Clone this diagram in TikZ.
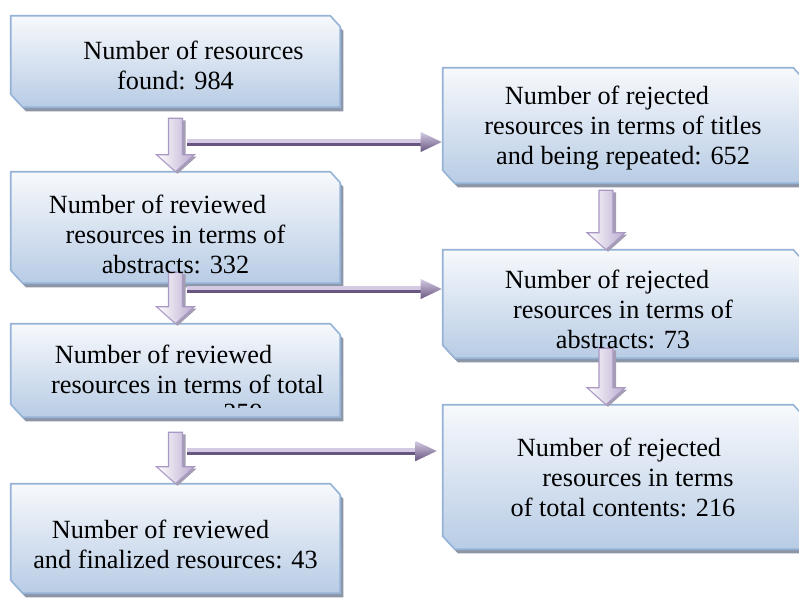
\documentclass[tikz,border=0pt]{standalone}
\usepackage{fontspec}
\setmainfont{Liberation Serif}
\usetikzlibrary{calc,fit,positioning}

\pgfdeclarelayer{background}
\pgfdeclarelayer{middle}
\pgfsetlayers{background,middle,main}

\definecolor{boxtop}{RGB}{247,249,252}
\definecolor{boxbot}{RGB}{184,204,229}
\definecolor{boxedge}{RGB}{149,179,215}
\definecolor{boxshade}{RGB}{140,150,166}
\definecolor{arrowlight}{RGB}{212,202,228}
\definecolor{arrowmid}{RGB}{186,171,208}
\definecolor{arrowedge}{RGB}{170,152,196}
\definecolor{arrowdark}{RGB}{104,86,128}
\definecolor{arrowshade}{RGB}{165,158,178}

\newcommand\padl[2]{\makebox[#1]{}#2}
\newcommand\padr[2]{#2\makebox[#1]{}}

% box drawn behind a node, top right and bottom left corners snipped
\newcommand\snipbox[1]{%
  \begin{pgfonlayer}{background}
    \fill[boxshade] ($(#1.north west)+(3,4)$) -- ($(#1.north east)+(-7,4)$) -- ($(#1.north east)+(3,15)$) -- ($(#1.south east)+(3,4)$) -- ($(#1.south west)+(15,4)$) -- ($(#1.south west)+(3,-9)$) -- cycle;
    \path[boxbody] (#1.north west) -- ($(#1.north east)+(-10,0)$) -- ($(#1.north east)+(0,11)$) -- (#1.south east) -- ($(#1.south west)+(12,0)$) -- ($(#1.south west)+(0,-13)$) -- cycle;
  \end{pgfonlayer}}

% fat arrow going down from #1 to the tip #2
\newcommand\downblock[2]{%
  \fill[arrowshade] ($(#1)+(-4,2)$) -- ($(#1)+(10,2)$) -- ($(#2)+(10,-15)$) -- ($(#2)+(21,-15)$) -- ($(#2)+(2,2)$) -- ($(#2)+(-16,-15)$) -- ($(#2)+(-4,-15)$) -- cycle;
  \path[blockbody] ($(#1)+(-7,0)$) -- ($(#1)+(7,0)$) -- ($(#2)+(7,-17)$) -- ($(#2)+(19,-17)$) -- (#2) -- ($(#2)+(-19,-17)$) -- ($(#2)+(-7,-17)$) -- cycle;}

% thin arrow going right from #1 to the tip #2
\newcommand\sideblock[2]{%
  \fill[arrowlight] ($(#1)+(0,-3)$) rectangle ($(#2)+(-20,1)$);
  \fill[arrowdark] ($(#1)+(0,1)$) rectangle ($(#2)+(-20,4)$);
  \path[headbody] ($(#2)+(-21,-10)$) -- (#2) -- ($(#2)+(-21,10)$) -- cycle;}

\begin{document}
\begin{tikzpicture}[x=0.75pt,y=-0.75pt,
  snip/.style={inner sep=0pt},
  boxtext/.style={inner sep=0pt, align=center, font=\fontsize{19.7pt}{22.5pt}\selectfont},
  boxbody/.style={top color=boxtop, bottom color=boxbot, draw=boxedge, line width=1.2pt},
  blockbody/.style={left color=white, right color=arrowmid, draw=arrowedge, line width=0.8pt},
  headbody/.style={top color=arrowlight, middle color=arrowmid, bottom color=arrowdark}]
\begin{pgfonlayer}{background}
  \path[use as bounding box, fill=white] (0,0) rectangle (799,598);
\end{pgfonlayer}
\clip (0,0) rectangle (799,598);

% boxes
\node[snip, fit={(11,16) (340,107)}] (b1) {};
\node[snip, fit={(11,172) (340,283)}] (b2) {};
\node[snip, fit={(11,324) (340,417)}] (b3) {};
\node[snip, fit={(11,484) (340,593)}] (b4) {};
\node[snip, fit={(443,68) (803,183)}] (r1) {};
\node[snip, fit={(443,250) (803,358)}] (r2) {};
\node[snip, fit={(443,405) (803,549)}] (r3) {};
\foreach \b in {b1,b2,b3,b4,r1,r2,r3} {\snipbox{\b}}

% texts
\node[boxtext] (b1txt) at ($(b1)+(0,4)$) {\padl{27pt}{Number of resources}\\found: 984};
\node[boxtext] (b2txt) at ($(b2)+(0,7)$) {\padr{27pt}{Number of reviewed}\\resources in terms of\\abstracts: 332};
\node[boxtext] (b3txt) at ($(b3)+(0,-1)$) {\padr{18pt}{Number of reviewed}\\\padl{18pt}{resources in terms of total}};
\node[boxtext] (b4txt) at ($(b4)+(0,6)$) {\padr{22.5pt}{Number of reviewed}\\and finalized resources: 43};
\begin{scope}
  \clip (11,324) rectangle (340,407);
  \node[boxtext, anchor=base] (b3tail) at (243,421) {259};
\end{scope}
\node[boxtext] (r1txt) at ($(r1)+(0,3)$) {\padr{24pt}{Number of rejected}\\resources in terms of titles\\and being repeated: 652};
\node[boxtext] (r2txt) at ($(r2)+(0,5)$) {\padr{24pt}{Number of rejected}\\resources in terms of\\abstracts: 73};
\node[boxtext] (r3txt) at (r3) {\padr{6pt}{Number of rejected}\\\padl{22.5pt}{resources in terms}\\of total contents: 216};

\coordinate (a1) at ($(b1.south)+(0,11)$);
\coordinate (a2) at ($(b2.south)+(0,-11)$);
\coordinate (a3) at ($(b3.south)+(0,15)$);
\coordinate (a4) at ($(r1.south)+(-17,7)$);
\coordinate (a4tip) at ($(r2.north)+(-17,0)$);
\coordinate (a5) at ($(r2.south)+(-17,-10)$);
\coordinate (a5tip) at ($(r3.north)+(-17,0)$);
\coordinate (h1) at (187,142);
\coordinate (h2) at (187,289);
\coordinate (h3) at (187,451);
\coordinate (h1tip) at ($(r1.west |- h1)+(-1,0)$);
\coordinate (h2tip) at ($(r2.west |- h2)+(-1,0)$);
\coordinate (h3tip) at ($(r3.west |- h3)+(-6,0)$);

\begin{pgfonlayer}{middle}
  \sideblock{h1}{h1tip}
  \sideblock{h2}{h2tip}
  \sideblock{h3}{h3tip}
  \downblock{a1}{b2.north}
  \downblock{a2}{b3.north}
  \downblock{a3}{b4.north}
  \downblock{a4}{a4tip}
  \downblock{a5}{a5tip}
\end{pgfonlayer}
\end{tikzpicture}
\end{document}
